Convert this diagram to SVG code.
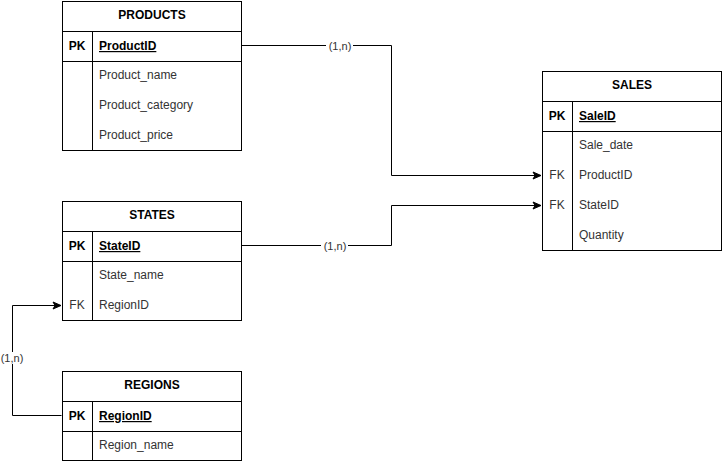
<svg xmlns="http://www.w3.org/2000/svg" width="722" height="461" viewBox="0 0 722 461">
<style>
.box{fill:#fff;stroke:#000;stroke-width:1}
.ln{stroke:#000;stroke-width:1;fill:none}
.t{font-family:"Liberation Sans",Arial,sans-serif;font-size:12px;fill:#000}
.ti{font-weight:bold;text-anchor:middle}
.k{text-anchor:middle}
.pk{font-weight:bold}
.u{text-decoration:underline}
.f{fill:#333}
.lbl{font-family:"Liberation Sans",Arial,sans-serif;font-size:11px;fill:#333;text-anchor:middle}
</style>
<defs>
<marker id="arr" markerWidth="10" markerHeight="10" refX="9" refY="5" orient="auto" markerUnits="userSpaceOnUse">
<path d="M1,1.5 L9,5 L1,8.5 L3,5 Z" fill="#000" stroke="#000" stroke-width="1"/>
</marker>
</defs>
<g id="connectors">
<path class="ln" d="M241.5,45.5 H391.5 V175.5 H541" marker-end="url(#arr)"/>
<rect x="326" y="40" width="27" height="12" fill="#fff"/>
<text class="lbl" x="340" y="50">(1,n)</text>
<path class="ln" d="M241.5,245.5 H391.5 V205.5 H541" marker-end="url(#arr)"/>
<rect x="321" y="240" width="27" height="12" fill="#fff"/>
<text class="lbl" x="335" y="250">(1,n)</text>
<path class="ln" d="M61.5,415.5 H12.5 V305.5 H61" marker-end="url(#arr)"/>
<rect x="0" y="352" width="26" height="12" fill="#fff"/>
<text class="lbl" x="12" y="362">(1,n)</text>
</g>
<g id="products">
<rect class="box" x="62.5" y="1.5" width="179" height="149"/>
<path class="ln" d="M62.5,31.5 H241.5 M62.5,61.5 H241.5 M92.5,31.5 V150.5"/>
<text class="t ti" x="152" y="19">PRODUCTS</text>
<text class="t k pk" x="77" y="50">PK</text>
<text class="t pk u" x="99" y="50">ProductID</text>
<text class="t f" x="99" y="79">Product_name</text>
<text class="t f" x="99" y="109">Product_category</text>
<text class="t f" x="99" y="139">Product_price</text>
</g>
<g id="states">
<rect class="box" x="62.5" y="201.5" width="179" height="119"/>
<path class="ln" d="M62.5,231.5 H241.5 M62.5,261.5 H241.5 M92.5,231.5 V320.5"/>
<text class="t ti" x="152" y="219">STATES</text>
<text class="t k pk" x="77" y="250">PK</text>
<text class="t pk u" x="99" y="250">StateID</text>
<text class="t f" x="99" y="279">State_name</text>
<text class="t k f" x="77" y="309">FK</text>
<text class="t f" x="99" y="309">RegionID</text>
</g>
<g id="regions">
<rect class="box" x="62.5" y="371.5" width="179" height="89"/>
<path class="ln" d="M62.5,401.5 H241.5 M62.5,431.5 H241.5 M92.5,401.5 V460.5"/>
<text class="t ti" x="152" y="389">REGIONS</text>
<text class="t k pk" x="77" y="420">PK</text>
<text class="t pk u" x="99" y="420">RegionID</text>
<text class="t f" x="99" y="449">Region_name</text>
</g>
<g id="sales">
<rect class="box" x="542.5" y="71.5" width="179" height="179"/>
<path class="ln" d="M542.5,101.5 H721.5 M542.5,131.5 H721.5 M572.5,101.5 V250.5"/>
<text class="t ti" x="632" y="89">SALES</text>
<text class="t k pk" x="557" y="120">PK</text>
<text class="t pk u" x="579" y="120">SaleID</text>
<text class="t f" x="579" y="149">Sale_date</text>
<text class="t k f" x="557" y="179">FK</text>
<text class="t f" x="579" y="179">ProductID</text>
<text class="t k f" x="557" y="209">FK</text>
<text class="t f" x="579" y="209">StateID</text>
<text class="t f" x="579" y="239">Quantity</text>
</g>
</svg>
